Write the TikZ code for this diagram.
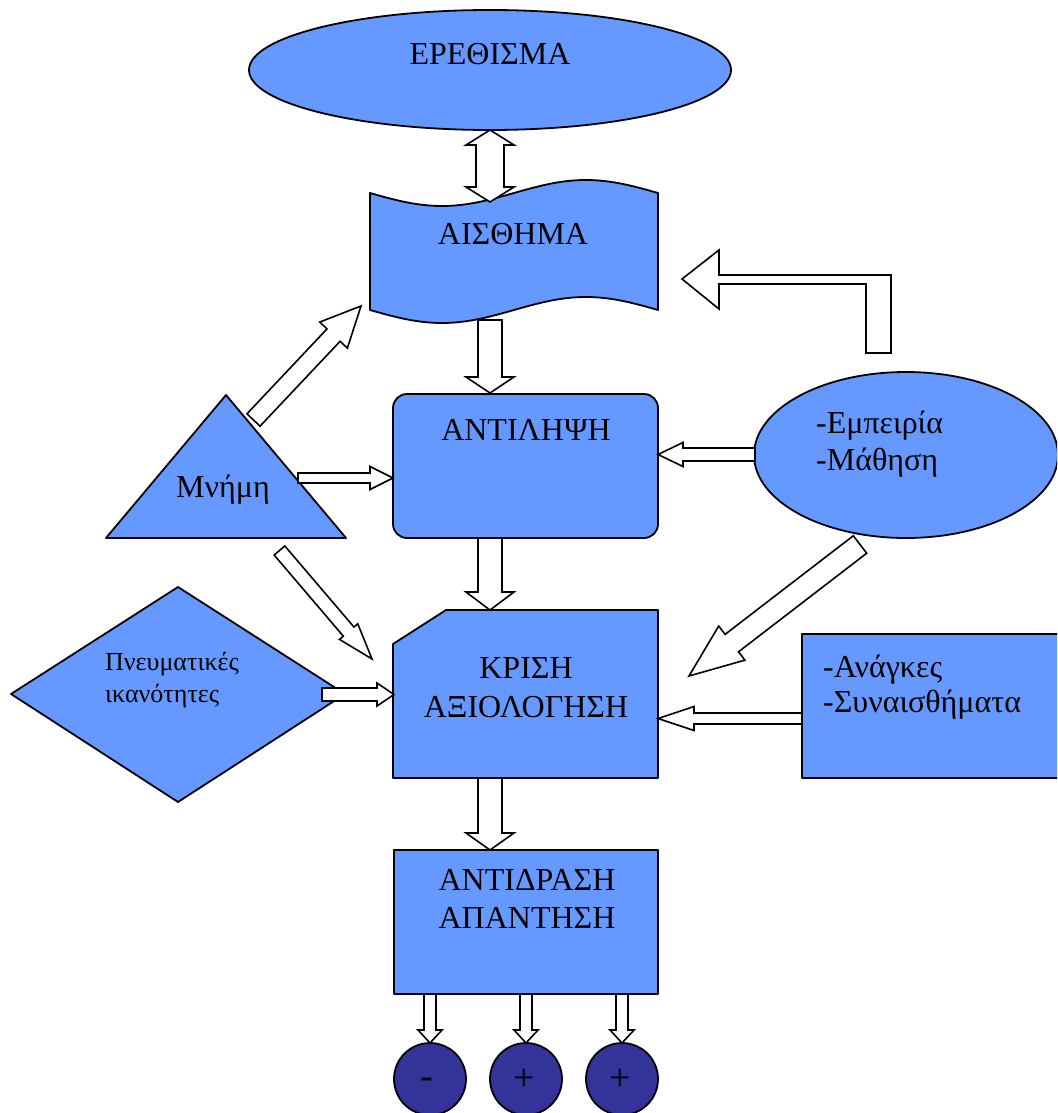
\documentclass[tikz,border=0pt]{standalone}
\usepackage{fontspec}
\setmainfont{Liberation Serif}
\usetikzlibrary{calc}
\definecolor{boxblue}{HTML}{6699FF}
\definecolor{darkdisc}{HTML}{333399}

% block arrow: #1 tail, #2 tip, #3 half shaft width, #4 half head width, #5 head length
\newcommand\blockarrow[5]{%
  \coordinate (hb) at ($(#2)!#5!(#1)$);
  \draw[arrowbody] ($(#1)!#3!90:(#2)$) -- ($(hb)!#3!90:(#2)$) -- ($(hb)!#4!90:(#2)$)
    -- (#2) -- ($(hb)!#4!-90:(#2)$) -- ($(hb)!#3!-90:(#2)$) -- ($(#1)!#3!-90:(#2)$) -- cycle;
}
% double-headed block arrow between #1 and #2
\newcommand\twowayarrow[5]{%
  \coordinate (ha) at ($(#1)!#5!(#2)$);
  \coordinate (hb) at ($(#2)!#5!(#1)$);
  \draw[arrowbody] (#1) -- ($(ha)!#4!90:(#2)$) -- ($(ha)!#3!90:(#2)$) -- ($(hb)!#3!90:(#2)$)
    -- ($(hb)!#4!90:(#2)$) -- (#2) -- ($(hb)!#4!-90:(#2)$) -- ($(hb)!#3!-90:(#2)$)
    -- ($(ha)!#3!-90:(#2)$) -- ($(ha)!#4!-90:(#2)$) -- cycle;
}

\begin{document}
\begin{tikzpicture}[x=1pt,y=-1pt,
  boxshape/.style={draw=black, fill=boxblue, line width=1.8pt, line join=round},
  disc/.style={draw=black, fill=darkdisc, line width=1.8pt},
  arrowbody/.style={draw=black, fill=white, line width=1.6pt, line join=miter},
  lbl/.style={font=\fontsize{32}{38}\selectfont, inner sep=0pt, anchor=base},
  lbll/.style={lbl, anchor=base west},
  smalltext/.style={font=\fontsize{26}{30}\selectfont, inner sep=0pt, anchor=base west},
  sign/.style={font=\fontsize{38}{40}\selectfont, inner sep=0pt}]
\useasboundingbox (0,0) rectangle (1057,1113);
\clip (0,0) rectangle (1057,1113);

% ---- shapes ----
\draw[boxshape] (490,70) ellipse [x radius=241, y radius=60];
\draw[boxshape] (370,193) sin (442,206) cos (514,193) sin (586,180) cos (658,193)
  -- (658,310) sin (586,297) cos (514,310) sin (442,323) cos (370,310) -- cycle;
\draw[boxshape, rounded corners=14pt] (393,394) rectangle (658,538);
\draw[boxshape] (446,610) -- (658,610) -- (658,778) -- (393,778) -- (393,644) -- cycle;
\draw[boxshape] (394,850) rectangle (658,994);
\draw[boxshape] (226,395) -- (346,538) -- (106,538) -- cycle;
\draw[boxshape] (906,455) ellipse [x radius=152, y radius=83];
\draw[boxshape] (11,694) -- (178,587) -- (345,694) -- (178,802) -- cycle;
\draw[boxshape] (802,634) rectangle (1070,778);
\draw[disc] (430,1079) circle [radius=36];
\draw[disc] (526,1079) circle [radius=36];
\draw[disc] (622,1079) circle [radius=36];

% ---- labels ----
\node[lbl] (erethisma) at (490,65) {ΕΡΕΘΙΣΜΑ};
\node[lbl] (aisthima) at (513,244) {ΑΙΣΘΗΜΑ};
\node[lbl] (antilipsi) at (526,440) {ΑΝΤΙΛΗΨΗ};
\node[lbl] (mnimi) at (223,497) {Μνήμη};
\node[lbll] (empeiria) at (816,433) {-Εμπειρία};
\node[lbll] (mathisi) at (816,470) {-Μάθηση};
\node[lbl] (krisi) at (526,678) {ΚΡΙΣΗ};
\node[lbl] (axiologisi) at (526,717) {ΑΞΙΟΛΟΓΗΣΗ};
\node[smalltext] (pnevm) at (105,670) {Πνευματικές};
\node[smalltext] (ikan) at (105,702) {ικανότητες};
\node[lbll] (anagkes) at (823,677) {-Ανάγκες};
\node[lbll] (synais) at (823,712) {-Συναισθήματα};
\node[lbl] (antidrasi) at (527,890) {ΑΝΤΙΔΡΑΣΗ};
\node[lbl] (apantisi) at (527,928) {ΑΠΑΝΤΗΣΗ};
\node[sign] (neg) at (427,1083) {-};
\node[sign] (posA) at (524,1080) {+};
\node[sign] (posB) at (620,1080) {+};

% ---- connector end points ----
\coordinate (ereth-s) at (490,130);
\coordinate (aisth-n) at (490,202);
\coordinate (aisth-s) at (490,320);
\coordinate (antil-n) at (490,393);
\coordinate (antil-s) at (490,538);
\coordinate (krisi-n) at (490,610);
\coordinate (krisi-s) at (490,778);
\coordinate (antid-n) at (490,850);
\coordinate (antid-s1) at (430,994);
\coordinate (antid-s2) at (526,994);
\coordinate (antid-s3) at (622,994);
\coordinate (disc1-n) at (430,1043);
\coordinate (disc2-n) at (526,1043);
\coordinate (disc3-n) at (622,1043);
\coordinate (mnimi-ne) at (253.5,420);
\coordinate (aisth-sw) at (361,306);
\coordinate (mnimi-e) at (298,478);
\coordinate (antil-w) at (393,478);
\coordinate (mnimi-se) at (279.5,550.5);
\coordinate (krisi-nw) at (372,659);
\coordinate (pnevm-e) at (322,694.5);
\coordinate (krisi-w) at (394,694.5);
\coordinate (emp-w) at (755,454.5);
\coordinate (antil-e) at (658,454.5);
\coordinate (emp-sw) at (860,544.5);
\coordinate (krisi-ne) at (689,676);
\coordinate (anag-w) at (802,718.5);
\coordinate (krisi-e) at (658,718.5);

% ---- connectors ----
\twowayarrow{ereth-s}{aisth-n}{14pt}{24pt}{15pt}
\blockarrow{aisth-s}{antil-n}{12pt}{24pt}{16pt}
\blockarrow{antil-s}{krisi-n}{12pt}{24pt}{18pt}
\blockarrow{krisi-s}{antid-n}{12pt}{24pt}{17pt}
\blockarrow{antid-s1}{disc1-n}{6pt}{12pt}{13pt}
\blockarrow{antid-s2}{disc2-n}{6pt}{12pt}{13pt}
\blockarrow{antid-s3}{disc3-n}{6pt}{12pt}{13pt}
\blockarrow{mnimi-ne}{aisth-sw}{9pt}{19pt}{40pt}
\blockarrow{mnimi-e}{antil-w}{5pt}{11.5pt}{23pt}
\blockarrow{mnimi-se}{krisi-nw}{7pt}{12pt}{36pt}
\blockarrow{pnevm-e}{krisi-w}{6.5pt}{11.5pt}{17pt}
\blockarrow{emp-w}{antil-e}{6.5pt}{12pt}{25pt}
\blockarrow{emp-sw}{krisi-ne}{11pt}{21.5pt}{54pt}
\blockarrow{anag-w}{krisi-e}{5.5pt}{12pt}{36pt}

% bent return arrow towards the sensation shape
\coordinate (bend-tip) at (682,279);
\draw[arrowbody] (bend-tip) -- (719,250) -- (719,275) -- (891,275) -- (891,353)
  -- (866,353) -- (866,284) -- (719,284) -- (719,309) -- cycle;
\end{tikzpicture}
\end{document}
